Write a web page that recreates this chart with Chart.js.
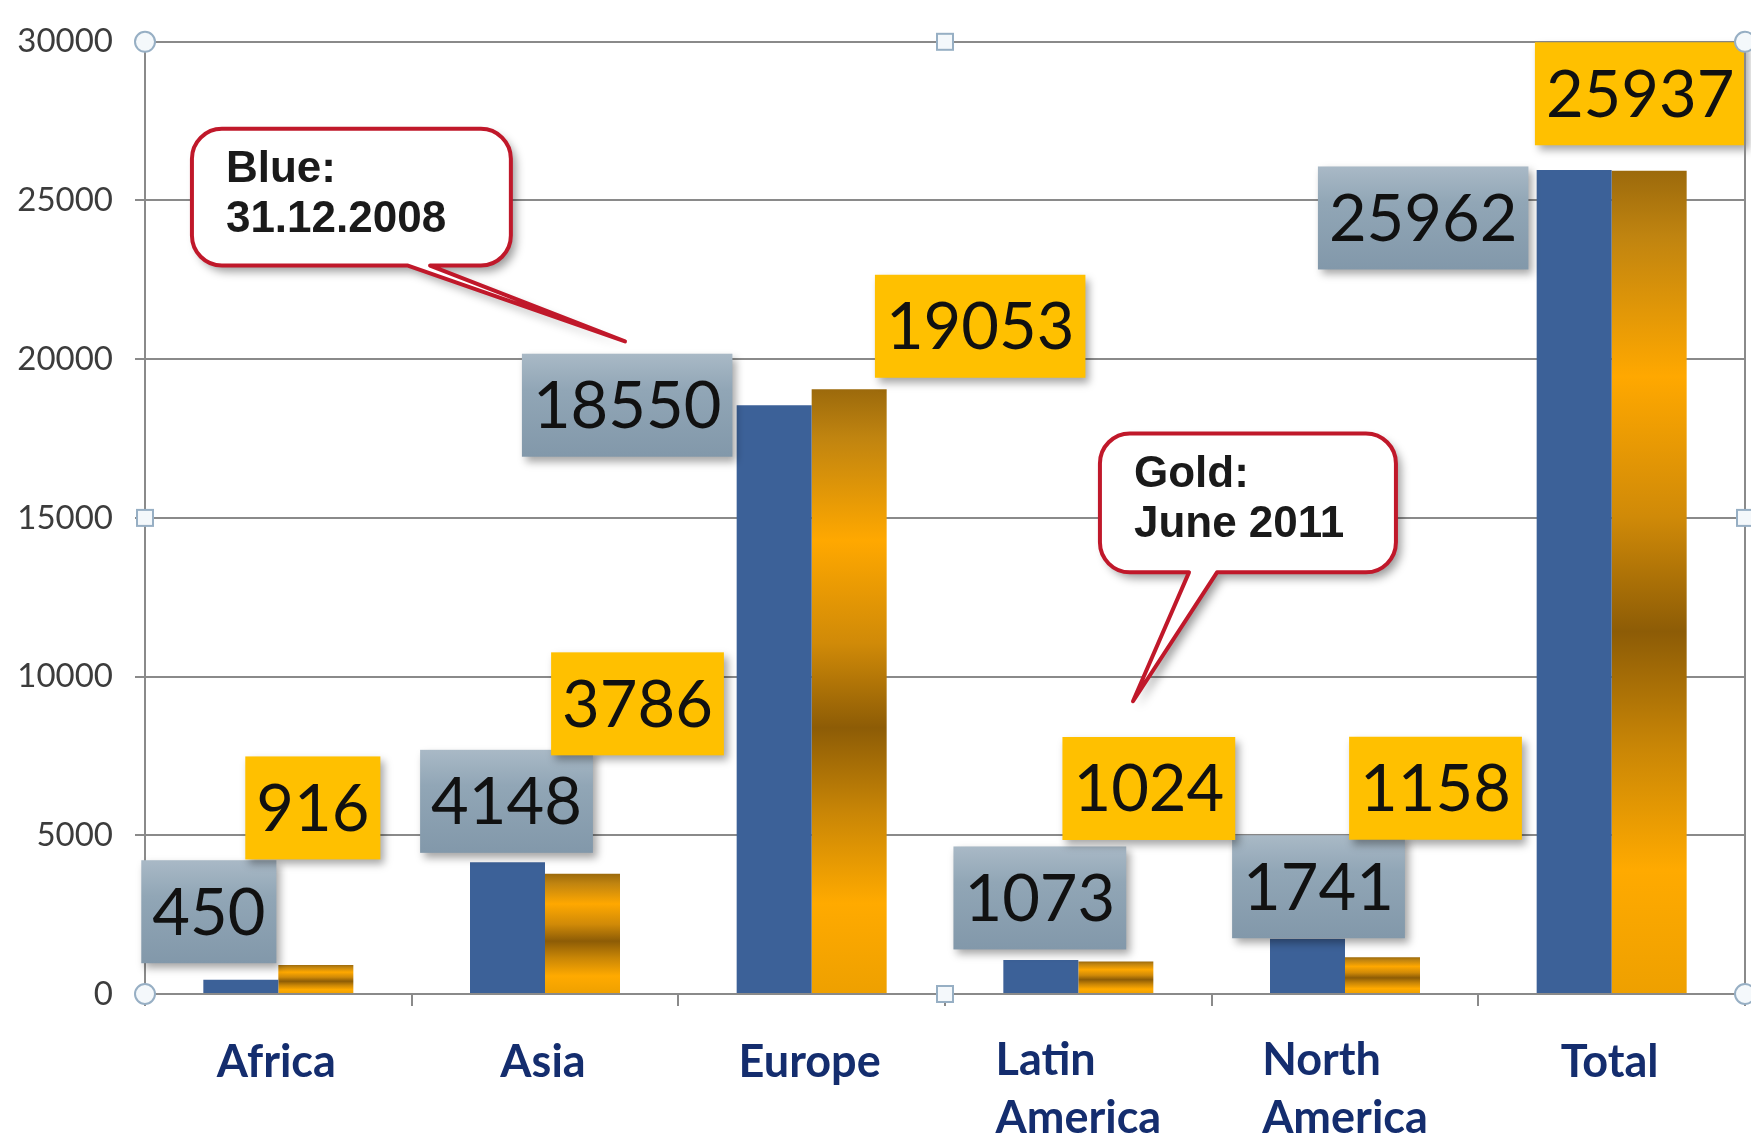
<!DOCTYPE html>
<html>
<head>
<meta charset="utf-8">
<script src="https://cdn.jsdelivr.net/npm/chart.js@4.4.0/dist/chart.umd.min.js"></script>
<style>
  html, body { margin: 0; padding: 0; background: #fff; }
  #wrap { width: 1751px; height: 1139px; position: relative; }
</style>
</head>
<body>
<div id="wrap"><canvas id="chart"></canvas></div>
<script>
// categories and values (blue = 31.12.2008, gold = June 2011)
const regions = ['Africa', 'Asia', 'Europe', ['Latin', 'America'], ['North', 'America'], 'Total'];
const blue2008 = [450, 4148, 18550, 1073, 1741, 25962];
const gold2011 = [916, 3786, 19053, 1024, 1158, 25937];
const yMax = 30000;
const yStep = 5000;

// where each value box sits, relative to the top centre of its bar (px)
const blueLabelShift = [[-32, -68], [-1, -61], [-147, 0], [-1, -62], [11, -52], [-151, 48]];
const goldLabelShift = [[-3, -157], [55, -170], [131, -63], [33, -173], [53, -169], [-9, -77]];

// speech bubbles, in axis units: box [x0, yTop, x1, yBottom], tail [xBase0, xBase1, xTip, yTip]
const callouts = [
  { lines: ['Blue:', '31.12.2008'], box: [-0.324, 27260, 0.872, 22950], tail: [0.486, 0.569, 1.30, 20560] },
  { lines: ['Gold:', 'June 2011'], box: [3.081, 17660, 4.191, 13284], tail: [3.415, 3.52, 3.205, 9223] },
];

const BLUE = '#3c6198';
const GRID = '#8a8a8a';
const NAVY = '#142d6e';

function goldFill(ctx) {
  const chart = ctx.chart;
  const y = chart.scales.y;
  if (!chart.chartArea || !y || ctx.raw == null) return '#f5a400';
  const top = y.getPixelForValue(ctx.raw);
  const base = y.getPixelForValue(0);
  if (!isFinite(top) || base - top < 1) return '#f5a400';
  const g = chart.ctx.createLinearGradient(0, top, 0, base);
  g.addColorStop(0, '#9c6a0c');
  g.addColorStop(0.08, '#c08410');
  g.addColorStop(0.25, '#ffa800');
  g.addColorStop(0.42, '#d08a08');
  g.addColorStop(0.56, '#8d5c06');
  g.addColorStop(0.70, '#c98606');
  g.addColorStop(0.85, '#ffaa00');
  g.addColorStop(1, '#eea000');
  return g;
}

const valueBoxes = {
  id: 'valueBoxes',
  afterDatasetsDraw(chart) {
    const ctx = chart.ctx;
    const shifts = [blueLabelShift, goldLabelShift];
    ctx.save();
    ctx.font = '65px Lato';
    ctx.textAlign = 'center';
    ctx.textBaseline = 'middle';
    chart.data.datasets.forEach((ds, di) => {
      chart.getDatasetMeta(di).data.forEach((bar, i) => {
        const txt = String(ds.data[i]);
        const cx = bar.x + shifts[di][i][0];
        const cy = bar.y + shifts[di][i][1];
        const w = ctx.measureText(txt).width + 22;
        const h = 103;
        const x0 = cx - w / 2, y0 = cy - h / 2;
        ctx.save();
        ctx.shadowColor = 'rgba(0,0,0,0.35)';
        ctx.shadowBlur = 8;
        ctx.shadowOffsetX = 4;
        ctx.shadowOffsetY = 5;
        if (di === 0) {
          const g = ctx.createLinearGradient(0, y0, 0, y0 + h);
          g.addColorStop(0, '#a9b9c6');
          g.addColorStop(0.35, '#91a6b6');
          g.addColorStop(1, '#8298aa');
          ctx.fillStyle = g;
        } else {
          ctx.fillStyle = '#ffc000';
        }
        ctx.fillRect(x0, y0, w, h);
        ctx.restore();
        ctx.fillStyle = '#111';
        ctx.fillText(txt, cx, cy + 2);
      });
    });
    ctx.restore();
  },
};

const decorations = {
  id: 'decorations',
  afterDraw(chart) {
    const ctx = chart.ctx;
    const xs = chart.scales.x, ys = chart.scales.y;
    const a = chart.chartArea;

    // right border of the plot area
    ctx.save();
    ctx.strokeStyle = GRID;
    ctx.lineWidth = 2;
    ctx.beginPath();
    ctx.moveTo(a.right, a.top);
    ctx.lineTo(a.right, a.bottom);
    ctx.stroke();
    ctx.restore();

    // category names, multi-line ones left aligned in a centred block
    ctx.save();
    ctx.font = 'bold 45px Lato';
    ctx.fillStyle = NAVY;
    ctx.textBaseline = 'middle';
    regions.forEach((r, i) => {
      const lines = Array.isArray(r) ? r : [r];
      const cx = xs.getPixelForValue(i);
      const wMax = Math.max(...lines.map((l) => ctx.measureText(l).width));
      lines.forEach((l, k) => {
        if (lines.length > 1) {
          ctx.textAlign = 'left';
          ctx.fillText(l, cx - wMax / 2, a.bottom + 66 + k * 58);
        } else {
          ctx.textAlign = 'center';
          ctx.fillText(l, cx - 2, a.bottom + 68);
        }
      });
    });
    ctx.restore();

    // speech bubbles
    callouts.forEach((c) => {
      const x0 = xs.getPixelForValue(c.box[0]);
      const y0 = ys.getPixelForValue(c.box[1]);
      const x1 = xs.getPixelForValue(c.box[2]);
      const y1 = ys.getPixelForValue(c.box[3]);
      const b0 = xs.getPixelForValue(c.tail[0]);
      const b1 = xs.getPixelForValue(c.tail[1]);
      const tx = xs.getPixelForValue(c.tail[2]);
      const ty = ys.getPixelForValue(c.tail[3]);
      const r = 30;
      ctx.save();
      ctx.beginPath();
      ctx.moveTo(x0 + r, y0);
      ctx.lineTo(x1 - r, y0);
      ctx.arcTo(x1, y0, x1, y0 + r, r);
      ctx.lineTo(x1, y1 - r);
      ctx.arcTo(x1, y1, x1 - r, y1, r);
      ctx.lineTo(b1, y1);
      ctx.lineTo(tx, ty);
      ctx.lineTo(b0, y1);
      ctx.lineTo(x0 + r, y1);
      ctx.arcTo(x0, y1, x0, y1 - r, r);
      ctx.lineTo(x0, y0 + r);
      ctx.arcTo(x0, y0, x0 + r, y0, r);
      ctx.closePath();
      ctx.shadowColor = 'rgba(0,0,0,0.4)';
      ctx.shadowBlur = 10;
      ctx.shadowOffsetX = 5;
      ctx.shadowOffsetY = 6;
      ctx.fillStyle = '#fff';
      ctx.fill();
      ctx.shadowColor = 'transparent';
      ctx.strokeStyle = '#c0182a';
      ctx.lineWidth = 4;
      ctx.lineJoin = 'round';
      ctx.stroke();
      ctx.fillStyle = '#1a1a1a';
      ctx.font = 'bold 44px "Liberation Sans", Arial, sans-serif';
      ctx.textAlign = 'left';
      ctx.textBaseline = 'middle';
      c.lines.forEach((l, k) => ctx.fillText(l, x0 + 34, y0 + 41 + k * 50));
      ctx.restore();
    });

    // selection handles around the plot area
    const mx = (a.left + a.right) / 2, my = (a.top + a.bottom) / 2;
    ctx.save();
    ctx.strokeStyle = '#97afc4';
    ctx.lineWidth = 2;
    [[a.left, a.top], [a.left, a.bottom], [a.right, a.top], [a.right, a.bottom]].forEach(([x, y]) => {
      ctx.beginPath();
      ctx.arc(x, y, 10, 0, Math.PI * 2);
      ctx.fillStyle = '#f4f8fb';
      ctx.fill();
      ctx.stroke();
    });
    [[mx, a.top], [a.left, my], [mx, a.bottom], [a.right, my]].forEach(([x, y]) => {
      ctx.fillStyle = '#f4f8fb';
      ctx.fillRect(x - 8, y - 8, 16, 16);
      ctx.strokeRect(x - 8, y - 8, 16, 16);
    });
    ctx.restore();
  },
};

new Chart(document.getElementById('chart'), {
  type: 'bar',
  data: {
    labels: regions,
    datasets: [
      { label: '31.12.2008', data: blue2008, backgroundColor: BLUE },
      { label: 'June 2011', data: gold2011, backgroundColor: goldFill },
    ],
  },
  options: {
    responsive: true,
    maintainAspectRatio: false,
    animation: false,
    events: [],
    layout: { padding: { top: 41, right: 6, left: 0, bottom: 0 } },
    datasets: { bar: { barPercentage: 1, categoryPercentage: 0.5625 } },
    plugins: { legend: { display: false }, tooltip: { enabled: false } },
    scales: {
      x: {
        offset: true,
        grid: { drawOnChartArea: false, drawTicks: true, tickLength: 12, color: GRID, lineWidth: 2 },
        border: { display: true, color: GRID, width: 2 },
        ticks: { display: false },
        afterFit: (s) => { s.height = 145; },
      },
      y: {
        min: 0,
        max: yMax,
        ticks: {
          stepSize: yStep,
          color: '#3c3c3c',
          font: { family: 'Lato', size: 33 },
          padding: 22,
          callback: (v) => String(v),
        },
        grid: { color: GRID, lineWidth: 2, tickLength: 10 },
        border: { display: true, color: GRID, width: 2 },
        afterFit: (s) => { s.width = 145; },
      },
    },
  },
  plugins: [valueBoxes, decorations],
});
</script>
</body>
</html>
